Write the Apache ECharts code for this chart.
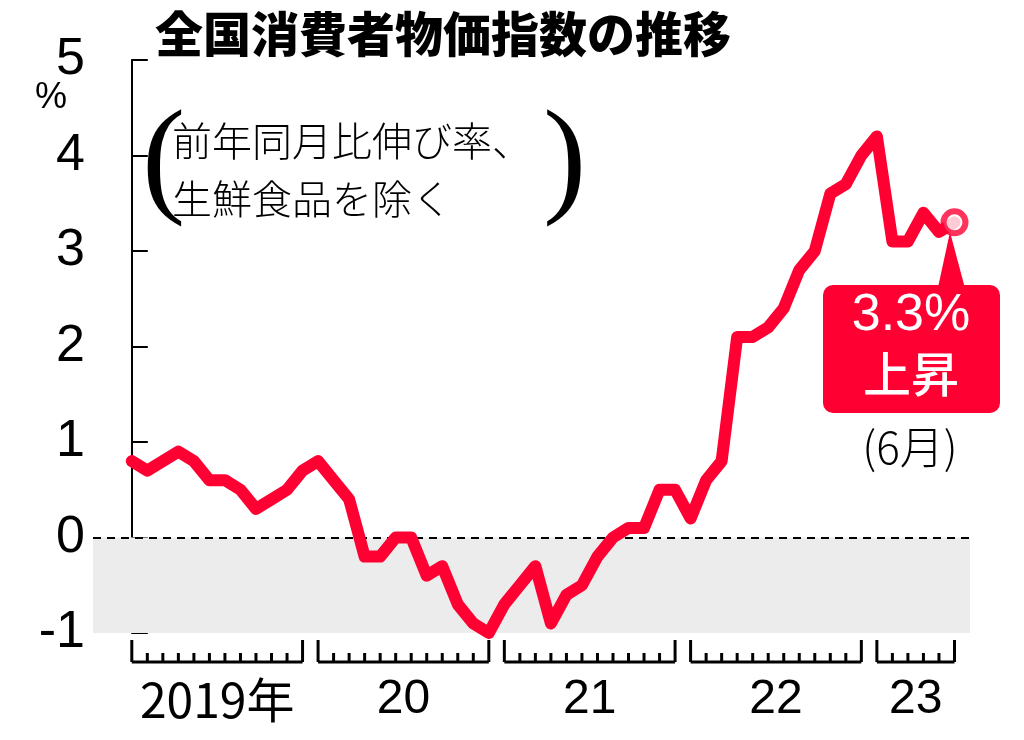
<!DOCTYPE html>
<html><head><meta charset="utf-8">
<script src="https://cdn.jsdelivr.net/npm/echarts@6/dist/echarts.min.js"></script>
<style>html,body{margin:0;padding:0;background:#fff}#c{width:1024px;height:740px}</style>
</head><body><div id="c"></div>
<script>
const v2019 = [0.8,0.7,0.8,0.9,0.8,0.6,0.6,0.5,0.3,0.4,0.5,0.7];
const v2020 = [0.8,0.6,0.4,-0.2,-0.2,0.0,0.0,-0.4,-0.3,-0.7,-0.9,-1.0];
const v2021 = [-0.7,-0.5,-0.3,-0.9,-0.6,-0.5,-0.2,0.0,0.1,0.1,0.5,0.5];
const v2022 = [0.2,0.6,0.8,2.1,2.1,2.2,2.4,2.8,3.0,3.6,3.7,4.0];
const v2023 = [4.2,3.1,3.1,3.4,3.2,3.3];
const yearLabels = ['2019年','20','21','22','23'];
const yearMonths = [12,12,12,12,6];
const yTicks = [-1,0,1,2,3,4,5];

const values = [].concat(v2019,v2020,v2021,v2022,v2023);
const lineData = values.map((v,i)=>[i,v]);
const groups = []; let s=0;
yearMonths.forEach((n,k)=>{groups.push([s,s+n-1,k]); s+=n;});
const last = lineData[lineData.length-1];
const FONT = 'Liberation Sans';
const JP = 'Noto Sans CJK JP';
function T(text,x,y,size,opts){
  return Object.assign({type:'text',x:x,y:y,style:Object.assign({text:text,fontSize:size,fontFamily:JP,fill:'#000'},opts||{})});
}

const chart = echarts.init(document.getElementById('c'));
chart.setOption({
  animation:false,
  grid:{left:93,right:54,top:60,bottom:107},
  xAxis:{type:'value',min:-2.5,max:54,show:false},
  yAxis:{type:'value',min:-1,max:5,interval:1,
    axisLine:{show:true,lineStyle:{color:'#000',width:2}},
    axisTick:{show:true,inside:true,length:16,lineStyle:{color:'#000',width:2}},
    splitLine:{show:false},
    axisLabel:{fontSize:52,color:'#000',fontFamily:FONT,margin:8,
      formatter:v=>yTicks.includes(v)?String(v):''}},
  graphic:[
    T('全国消費者物価指数の推移',155,10,48,{fontWeight:900}),
    T('%',35,80,36,{fontFamily:FONT}),
    T('(',142,100,130,{fontWeight:100,fontFamily:'DejaVu Sans ExtraLight'}),
    T(')',543,100,130,{fontWeight:100,fontFamily:'DejaVu Sans ExtraLight'}),
    T('前年同月比伸び率、\n生鮮食品を除く',172,112,40,{fontWeight:300,lineHeight:58}),
    {type:'polygon',shape:{points:[[950,232],[937,292],[966,292]]},style:{fill:'#ff0033'}},
    {type:'rect',shape:{x:823,y:285,width:177,height:128,r:10},style:{fill:'#ff0033'}},
    T('3.3%',911,290,52,{fontFamily:FONT,fill:'#fff',align:'center'}),
    T('上昇',911,350,48,{fill:'#fff',align:'center',fontWeight:500}),
    T('(6月)',910,425,44,{align:'center',fontWeight:300})
  ],
  series:[
    {type:'line',data:lineData,symbol:'none',z:5,
     lineStyle:{color:'#ff0033',width:12,join:'round',cap:'round'},
     markArea:{silent:true,itemStyle:{color:'#ececec'},data:[[{coord:[-2.5,-1]},{coord:[54,0]}]]},
     markLine:{silent:true,symbol:'none',label:{show:false},
       lineStyle:{color:'#000',type:[8,6],width:2},data:[{yAxis:0}]}},
    {type:'scatter',data:[last],symbol:'circle',symbolSize:22,z:6,
     itemStyle:{color:'#fff',borderColor:'#ff0033',borderWidth:6}},
    {type:'custom',data:groups,z:4,clip:false,
     renderItem:(params,api)=>{
       const a=api.value(0), b=api.value(1), k=api.value(2);
       const base = api.coord([0,-1])[1]+29;
       const children=[];
       const p0=api.coord([a,0])[0], p1=api.coord([b,0])[0];
       children.push({type:'line',shape:{x1:p0,y1:base,x2:p1,y2:base},style:{stroke:'#000',lineWidth:3}});
       for(let m=a;m<=b;m++){
         const x=api.coord([m,0])[0];
         const h=(m===a||m===b)?22:9;
         children.push({type:'line',shape:{x1:x,y1:base,x2:x,y2:base-h},style:{stroke:'#000',lineWidth:3}});
       }
       children.push({type:'text',style:{text:yearLabels[k],x:(p0+p1)/2,y:base+14,
         fontSize:48,fontFamily:k===0?JP:FONT,fill:'#000',align:'center',verticalAlign:'top'}});
       return {type:'group',children};
     }}
  ]
});
</script></body></html>
